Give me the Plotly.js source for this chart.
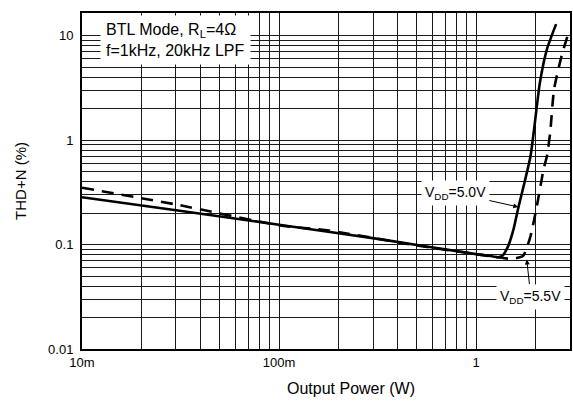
<!DOCTYPE html>
<html>
<head>
<meta charset="utf-8">
<script src="https://cdn.plot.ly/plotly-3.0.1.min.js"></script>
<style>html,body{margin:0;padding:0;background:#fff;}#chart{width:573px;height:405px;}</style>
</head>
<body>
<div id="chart"></div>
<script>
// Output power (W) and THD+N (%)
const vdd50Power = [0.01, 0.03, 0.1, 0.33, 1.0, 1.22, 1.29, 1.36, 1.45, 1.55, 1.64, 1.89, 2.11, 2.29, 2.55];
const vdd50Thd   = [0.284, 0.213, 0.155, 0.112, 0.081, 0.077, 0.0755, 0.078, 0.095, 0.14, 0.225, 0.7, 3.55, 7.4, 12.9];
const vdd55Power = [0.01, 0.03, 0.1, 0.18, 0.5, 1.0, 1.29, 1.51, 1.65, 1.74, 1.89, 2.05, 2.2, 2.29, 2.38, 2.49, 2.72, 2.95];
const vdd55Thd   = [0.35, 0.242, 0.153, 0.136, 0.098, 0.081, 0.0755, 0.073, 0.075, 0.0785, 0.12, 0.25, 0.52, 0.70, 1.18, 3.06, 6.4, 10.7];
const xTickVals = [0.01, 0.1, 1, 3];
const xTickText = ['10m', '100m', '1', '3'];
const yTickVals = [0.01, 0.1, 1, 10];
const yTickText = ['0.01', '0.1', '1', '10'];

const FONT = 'Liberation Sans, Arial, sans-serif';
const GRID = '#1a1a1a';

const traces = [
  {x: vdd50Power, y: vdd50Thd, mode: 'lines', name: 'VDD=5.0V',
   line: {color: '#000', width: 2.6, shape: 'spline', smoothing: 0.6}},
  {x: vdd55Power, y: vdd55Thd, mode: 'lines', name: 'VDD=5.5V',
   line: {color: '#000', width: 2.6, dash: '12px,8px', shape: 'spline', smoothing: 0.6}}
];

const layout = {
  width: 573, height: 405,
  margin: {l: 82, r: 3, t: 13, b: 56},
  paper_bgcolor: '#fff', plot_bgcolor: '#fff',
  showlegend: false,
  font: {family: FONT, size: 13, color: '#000'},
  xaxis: {
    type: 'log', range: [-2, Math.log10(3)],
    tickmode: 'array', tickvals: xTickVals, ticktext: xTickText,
    ticks: '', showgrid: true, gridcolor: GRID, gridwidth: 1,
    minor: {dtick: 'D1', showgrid: true, gridcolor: GRID, gridwidth: 1, ticks: ''},
    showline: true, linecolor: '#000', linewidth: 2, mirror: true,
    zeroline: false, tickfont: {size: 13}
  },
  yaxis: {
    type: 'log', range: [-2, 1.217],
    tickmode: 'array', tickvals: yTickVals, ticktext: yTickText,
    ticks: '', showgrid: true, gridcolor: GRID, gridwidth: 1,
    minor: {dtick: 'D1', showgrid: true, gridcolor: GRID, gridwidth: 1, ticks: ''},
    showline: true, linecolor: '#000', linewidth: 2, mirror: true,
    zeroline: false, tickfont: {size: 13}, ticklabelstandoff: 4,
    title: {text: 'THD+N (%)', font: {size: 15}, standoff: 18}
  },
  annotations: [
    {xref: 'paper', yref: 'paper', x: 0.551, y: -0.117, xanchor: 'center', yanchor: 'middle',
     showarrow: false, text: 'Output Power (W)', font: {size: 16, family: FONT}},
    {xref: 'paper', yref: 'paper', x: 0.037, y: 0.994, xanchor: 'left', yanchor: 'top',
     align: 'left', showarrow: false, bgcolor: '#fff', borderpad: 5,
     text: 'BTL Mode, R<sub>L</sub>=4Ω<br>f=1kHz, 20kHz LPF',
     font: {size: 16, family: FONT}},
    {x: Math.log10(1.64), y: Math.log10(0.229), xref: 'x', yref: 'y',
     text: 'V<sub>DD</sub>=5.0V', font: {size: 14, family: FONT},
     showarrow: true, arrowhead: 2, arrowsize: 1, arrowwidth: 1, arrowcolor: '#000',
     ax: -63, ay: -14, bgcolor: '#fff', borderpad: 3},
    {x: Math.log10(1.81), y: Math.log10(0.0718), xref: 'x', yref: 'y',
     text: 'V<sub>DD</sub>=5.5V', font: {size: 14, family: FONT},
     showarrow: true, arrowhead: 2, arrowsize: 1, arrowwidth: 1, arrowcolor: '#000',
     ax: 4, ay: 37, bgcolor: '#fff', borderpad: 3}
  ]
};

Plotly.newPlot('chart', traces, layout, {displayModeBar: false, staticPlot: true});
</script>
</body>
</html>
